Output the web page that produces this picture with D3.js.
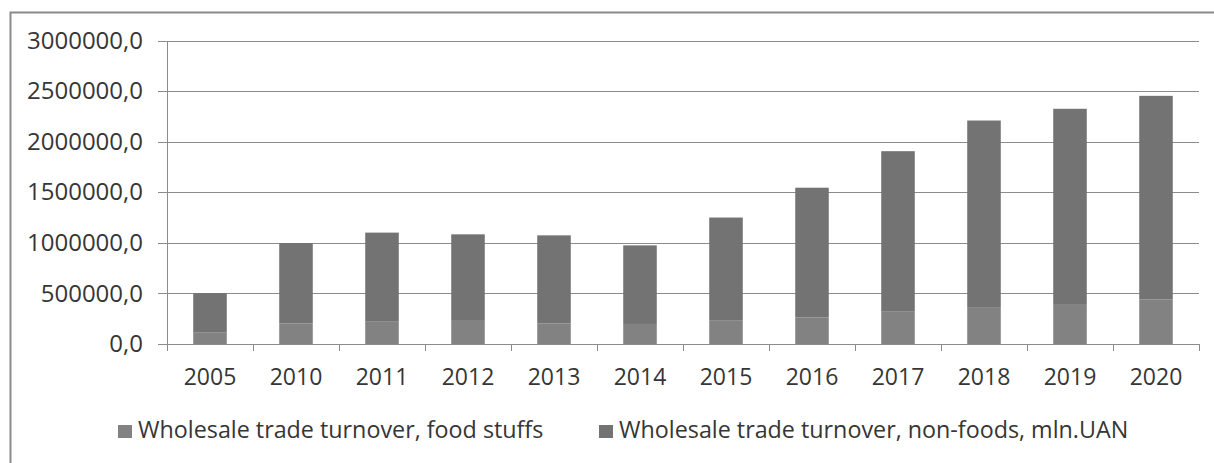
<!DOCTYPE html>
<html>
<head>
<meta charset="utf-8">
<script src="https://cdn.jsdelivr.net/npm/d3@7"></script>
<style>
  html, body { margin: 0; padding: 0; background: #ffffff; }
  svg { display: block; }
  text { font-family: "Open Sans", "Noto Sans", sans-serif; fill: #363636; }
</style>
</head>
<body>
<svg id="chart" width="1214" height="463"></svg>
<script>
// Wholesale trade turnover by year, mln. UAH (stacked: food stuffs + non-foods)
const years = ["2005", "2010", "2011", "2012", "2013", "2014", "2015", "2016", "2017", "2018", "2019", "2020"];
const foodStuffs = [112000, 204000, 220000, 237000, 204000, 198000, 230000, 263000, 319000, 358000, 395000, 441000];
const nonFoods = [391000, 794000, 881000, 847000, 870000, 777000, 1020000, 1282000, 1587000, 1851000, 1930000, 2012000];
const yTicks = [0, 500000, 1000000, 1500000, 2000000, 2500000, 3000000];
const seriesNames = ["Wholesale trade turnover, food stuffs", "Wholesale trade turnover, non-foods, mln.UAN"];
const seriesColors = ["#828282", "#737373"];

const svg = d3.select("#chart");

// outer chart frame (runs past the right and bottom edges)
svg.append("rect")
  .attr("x", 10.5).attr("y", 12.5)
  .attr("width", 1260).attr("height", 500)
  .attr("fill", "#ffffff")
  .attr("stroke", "#8a8a8a")
  .attr("stroke-width", 2);

const plot = { left: 167, right: 1199, top: 40.5, bottom: 344 };

const x = d3.scaleBand()
  .domain(years)
  .range([plot.left, plot.right])
  .paddingInner(0.61)
  .paddingOuter(0.305);

const y = d3.scaleLinear()
  .domain([0, 3000000])
  .range([plot.bottom, plot.top]);

// horizontal gridlines with y axis labels
const yAxis = d3.axisLeft(y)
  .tickValues(yTicks)
  .tickSize(-(plot.right - plot.left))
  .tickFormat(d => d3.format("d")(d) + ",0");

const gy = svg.append("g")
  .attr("transform", `translate(${plot.left},0)`)
  .call(yAxis);
gy.select(".domain").remove();
gy.selectAll(".tick line")
  .attr("stroke", "#8c8c8c")
  .attr("x1", -9)
  .attr("shape-rendering", "crispEdges");
gy.selectAll(".tick text")
  .attr("font-size", 24)
  .attr("x", -24)
  .style("font-family", "'Open Sans', sans-serif")
  .attr("fill", "#363636");

// stacked bars
const stackData = years.map((yr, i) => ({ year: yr, food: foodStuffs[i], nonfood: nonFoods[i] }));
const stack = d3.stack().keys(["food", "nonfood"]);
const layers = stack(stackData);

svg.append("g")
  .selectAll("g")
  .data(layers)
  .join("g")
  .attr("fill", (d, i) => seriesColors[i])
  .selectAll("rect")
  .data(d => d)
  .join("rect")
  .attr("x", d => x(d.data.year))
  .attr("width", x.bandwidth())
  .attr("y", d => y(d[1]))
  .attr("height", d => y(d[0]) - y(d[1]));

// y axis line
svg.append("line")
  .attr("x1", plot.left).attr("x2", plot.left)
  .attr("y1", plot.top).attr("y2", plot.bottom)
  .attr("stroke", "#8c8c8c")
  .attr("shape-rendering", "crispEdges");

// x axis with ticks between categories
const xg = svg.append("g");
xg.append("line")
  .attr("x1", plot.left).attr("x2", plot.right)
  .attr("y1", plot.bottom).attr("y2", plot.bottom)
  .attr("stroke", "#8c8c8c")
  .attr("shape-rendering", "crispEdges");
const boundaries = years.map(yr => x(yr) - x.step() * x.paddingInner() / 2).concat([plot.right]);
xg.selectAll("line.tk")
  .data(boundaries)
  .join("line")
  .attr("class", "tk")
  .attr("x1", d => d).attr("x2", d => d)
  .attr("y1", plot.bottom).attr("y2", plot.bottom + 7)
  .attr("stroke", "#8c8c8c")
  .attr("shape-rendering", "crispEdges");
xg.selectAll("text")
  .data(years)
  .join("text")
  .attr("x", d => x(d) + x.bandwidth() / 2)
  .attr("y", 385)
  .attr("text-anchor", "middle")
  .attr("font-size", 23)
  .text(d => d);

// legend
const legendItems = [
  { name: seriesNames[0], color: seriesColors[0], x: 118 },
  { name: seriesNames[1], color: seriesColors[1], x: 599 }
];
const lg = svg.append("g")
  .selectAll("g")
  .data(legendItems)
  .join("g")
  .attr("transform", d => `translate(${d.x},0)`);
lg.append("rect")
  .attr("x", 0).attr("y", 425)
  .attr("width", 14).attr("height", 13)
  .attr("fill", d => d.color);
lg.append("text")
  .attr("x", 20).attr("y", 438)
  .attr("font-size", 23.3)
  .text(d => d.name);
</script>
</body>
</html>
